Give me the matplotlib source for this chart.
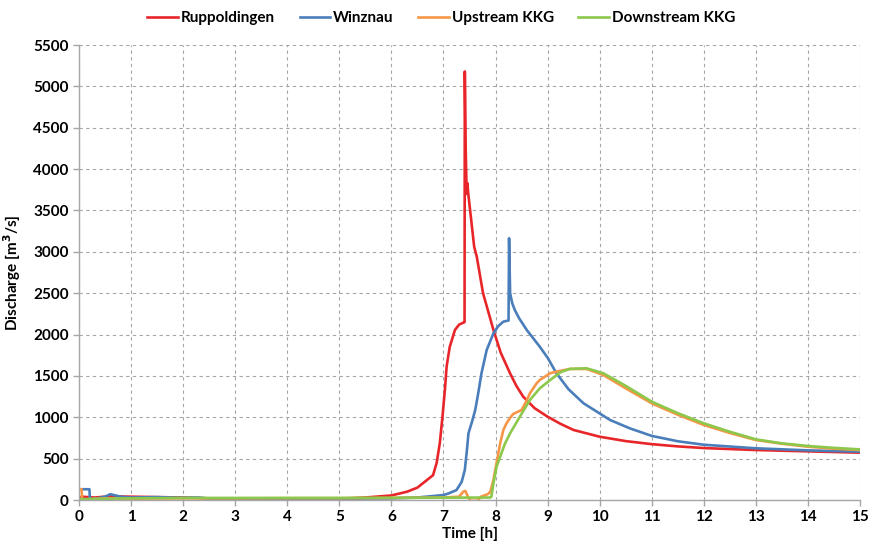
import matplotlib
matplotlib.use("Agg")
import matplotlib.pyplot as plt

# --- data (time in h, discharge in m3/s) ---
rup_t = [0, 0.02, 0.05, 0.3, 0.6, 1.0, 1.5, 2.0, 2.5, 3, 3.5, 4, 4.5, 5, 5.5,
         6.0, 6.3, 6.5, 6.8, 6.87, 6.93, 6.98, 7.03, 7.06, 7.12, 7.22, 7.3,
         7.38, 7.405, 7.41, 7.425, 7.445, 7.46, 7.475, 7.53, 7.59, 7.64, 7.76,
         7.96, 8.1, 8.28, 8.4, 8.53, 8.75, 9.0, 9.25, 9.5, 10, 10.5, 11, 11.5,
         12, 13, 14, 15]
rup_q = [0, 20, 40, 30, 45, 40, 35, 30, 20, 15, 12, 10, 12, 15, 30,
         55, 100, 150, 300, 450, 690, 1000, 1350, 1610, 1850, 2055, 2120,
         2143, 2150, 5180, 4300, 3700, 3830, 3710, 3400, 3060, 2940, 2500,
         2055, 1780, 1530, 1380, 1250, 1110, 1007, 920, 846, 765, 712, 675, 648,
         628, 604, 588, 572]

win_t = [0, 0.2, 0.21, 0.35, 0.5, 0.6, 0.7, 0.8, 1.0, 1.5, 2.0, 2.3, 2.5, 3,
         4, 5, 6, 6.5, 7, 7.1, 7.25, 7.35, 7.41, 7.45, 7.48, 7.55, 7.61, 7.67,
         7.73, 7.83, 7.96, 8.05, 8.15, 8.25, 8.26, 8.28, 8.32, 8.37, 8.45, 8.6,
         8.85, 9.0, 9.17, 9.4, 9.69, 10.2, 10.58, 11, 11.5, 12, 13, 14, 15]
win_q = [130, 130, 10, 20, 40, 70, 55, 40, 30, 35, 25, 30, 15, 10,
         10, 15, 20, 30, 60, 80, 120, 220, 363, 600, 806, 950, 1088, 1300,
         1532, 1813, 2015, 2100, 2156, 2170, 3164, 2500, 2380, 2297, 2200, 2055,
         1853, 1720, 1532, 1340, 1169, 967, 866, 775, 710, 668, 625, 600, 584]

up_t = [0, 0.05, 0.06, 0.5, 1, 2, 3, 4, 5, 6, 7, 7.3, 7.38, 7.42, 7.47, 7.52,
        7.65, 7.72, 7.85, 7.9, 7.96, 8.02, 8.09, 8.15, 8.21, 8.3, 8.34, 8.5,
        8.58, 8.66, 8.79, 8.85, 9.05, 9.17, 9.43, 9.75, 10.07, 10.5, 11, 11.5,
        12, 12.5, 13, 13.5, 14, 14.5, 15]
up_q = [130, 130, 5, 20, 15, 20, 20, 22, 22, 25, 30, 40, 100, 110, 40, -10,
        -10, 40, 70, 100, 242, 450, 686, 846, 927, 1010, 1040, 1088,
        1180, 1290, 1411, 1451, 1532, 1552, 1584, 1584, 1511, 1350, 1169, 1030,
        907, 810, 725, 680, 644, 620, 604]

down_t = [0, 1, 2, 3, 5, 7, 7.9, 7.92, 7.96, 8.02, 8.09, 8.18, 8.28, 8.47,
          8.66, 8.85, 9.05, 9.25, 9.43, 9.75, 10.07, 10.5, 11, 11.5, 12, 12.5,
          13, 13.5, 14, 14.5, 15]
down_q = [10, 20, 25, 25, 25, 28, 30, 40, 200, 403, 524, 680, 806, 1010,
          1209, 1350, 1451, 1545, 1585, 1592, 1532, 1380, 1189, 1050, 927, 825,
          733, 685, 653, 630, 612]

series = [
    ("Ruppoldingen", rup_t, rup_q, "#E8262A"),
    ("Winznau", win_t, win_q, "#4A7EBB"),
    ("Upstream KKG", up_t, up_q, "#F79646"),
    ("Downstream KKG", down_t, down_q, "#8CC84B"),
]

plt.rcParams["font.family"] = ["Lato", "DejaVu Sans"]
plt.rcParams["font.weight"] = "bold"

fig = plt.figure(figsize=(8.74, 5.57), dpi=100)
ax = fig.add_axes([79 / 874, 1 - 500 / 557, (860 - 79) / 874, (500 - 45) / 557])

for name, t, q, col in series:
    ax.plot(t, q, color=col, lw=1.9, label=name)

ax.set_xlim(0, 15)
ax.set_ylim(0, 5500)
ax.set_xticks(range(0, 16))
ax.set_yticks(range(0, 5501, 500))
ax.grid(True, color="#A6A6A6", ls=(0, (3, 3)), lw=0.8)
ax.set_axisbelow(True)

for s in ["top", "right"]:
    ax.spines[s].set_visible(False)
for s in ["left", "bottom"]:
    ax.spines[s].set_color("#A6A6A6")
    ax.spines[s].set_linewidth(1.0)
ax.tick_params(colors="#A6A6A6", length=4, width=1.0, labelcolor="black",
               labelsize=11)
for lab in ax.get_xticklabels() + ax.get_yticklabels():
    lab.set_fontweight("bold")

ax.set_xlabel("Time [h]", fontsize=11, fontweight="bold", labelpad=2)
ax.set_ylabel("Discharge [m$^\\mathbf{3}$/s]", fontsize=11, fontweight="bold",
              labelpad=7)

fig.legend(loc="upper center", bbox_to_anchor=(0.505, 1.005), ncol=4,
           frameon=False, handlelength=2.0, columnspacing=1.6,
           handletextpad=0.2, prop={"weight": "bold", "size": 11})

fig.savefig("out.png", dpi=100)
